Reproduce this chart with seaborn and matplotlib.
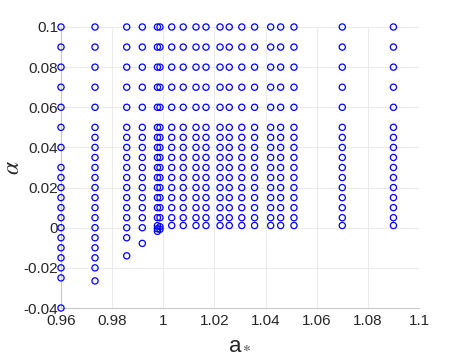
import pandas as pd
import seaborn as sns
import matplotlib.pyplot as plt
from matplotlib.ticker import FormatStrFormatter

# columns of a_* values and the alpha values drawn in each
upper = [0.1, 0.09, 0.08, 0.07, 0.06, 0.05, 0.045, 0.04, 0.035, 0.03,
         0.025, 0.02, 0.015, 0.01, 0.005]

col_096 = [0.1, 0.09, 0.08, 0.07, 0.06, 0.05, 0.04, 0.03, 0.025, 0.02,
           0.015, 0.01, 0.005, 0, -0.005, -0.01, -0.015, -0.02, -0.025, -0.04]
col_0973 = upper + [0, -0.005, -0.01, -0.015, -0.02, -0.0265]
col_0986 = upper + [0, -0.005, -0.014]
col_0992 = upper + [0, -0.0078]
col_0998 = upper + [0.001, -0.0005, -0.0018]
col_0999 = upper + [0.0005, -0.0008]
col_right = upper + [0.0011]

a_right = [1.0033, 1.0078, 1.0128, 1.0167, 1.0222, 1.0258, 1.0307, 1.0357,
           1.042, 1.0459, 1.0511, 1.07, 1.09]

a_vals = []
alpha_vals = []
for a, col in [(0.96, col_096), (0.9733, col_0973), (0.9857, col_0986),
               (0.9918, col_0992), (0.9977, col_0998), (0.9987, col_0999)]:
    a_vals += [a] * len(col)
    alpha_vals += col
for a in a_right:
    a_vals += [a] * len(col_right)
    alpha_vals += col_right

df = pd.DataFrame({'a': a_vals, 'alpha': alpha_vals})

sns.set_style('white')
plt.rcParams['font.family'] = ['Liberation Sans', 'DejaVu Sans']
plt.rcParams['mathtext.fontset'] = 'stix'

fig, ax = plt.subplots(figsize=(4.63, 3.62), dpi=100)
fig.subplots_adjust(left=61/463, right=419/463, top=1-27/362, bottom=1-308/362)

sns.scatterplot(x='a', y='alpha', data=df, ax=ax, marker='o', s=20,
                facecolors='none', edgecolor='#0000ff', linewidth=0.9,
                clip_on=False, zorder=3)

ax.set_xlim(0.96, 1.1)
ax.set_ylim(-0.04, 0.1)
ax.set_xticks([0.96, 0.98, 1.0, 1.02, 1.04, 1.06, 1.08, 1.1])
ax.set_yticks([-0.04, -0.02, 0, 0.02, 0.04, 0.06, 0.08, 0.1])
ax.xaxis.set_major_formatter(FormatStrFormatter('%g'))
ax.yaxis.set_major_formatter(FormatStrFormatter('%g'))
ax.grid(True, color='#ebebeb', linewidth=0.7)
ax.set_axisbelow(True)
for side in ['top', 'right']:
    ax.spines[side].set_visible(False)
for side in ['left', 'bottom']:
    ax.spines[side].set_color('#c8c8c8')
    ax.spines[side].set_linewidth(0.8)
ax.tick_params(direction='in', length=3, width=0.6, color='#b0b0b0',
               labelsize=11, labelcolor='#262626')
ax.tick_params(axis='x', pad=4)
ax.tick_params(axis='y', pad=2)
ax.set_xlabel('a$_*$', fontsize=16, color='#262626', labelpad=4)
ax.set_ylabel(r'$\alpha$', fontsize=17, color='#262626', labelpad=0)

plt.savefig('out.png', dpi=100)
